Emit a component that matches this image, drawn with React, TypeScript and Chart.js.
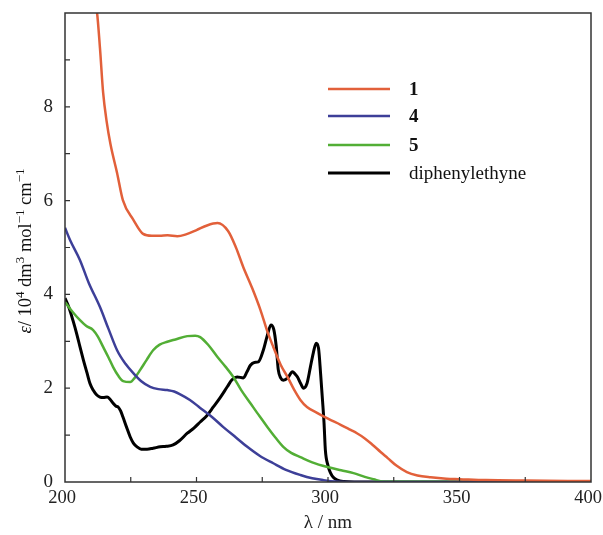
import React, { useEffect, useRef } from "react";
import { Chart, registerables } from "chart.js";

Chart.register(...registerables);

const wl1 = [210, 212.2, 213.3, 214.5, 215.8, 217.3, 219.8, 222, 226, 229.7, 233, 236, 239, 242.7, 246, 250, 254, 258, 262, 265, 267.8, 271.2, 274.3, 277, 279.2, 282, 284.6, 287, 289.5, 292, 296, 300, 304.8, 308.6, 311, 314, 317, 320, 322.7, 326, 330, 334, 339, 345, 350, 360, 375, 400];
const eps1 = [10.6, 10.0, 9.25, 8.3, 7.7, 7.2, 6.59, 6.01, 5.59, 5.29, 5.25, 5.25, 5.26, 5.24, 5.28, 5.37, 5.47, 5.52, 5.35, 5.0, 4.58, 4.13, 3.67, 3.2, 2.88, 2.5, 2.24, 1.98, 1.75, 1.6, 1.47, 1.35, 1.22, 1.11, 1.04, 0.93, 0.79, 0.64, 0.51, 0.35, 0.21, 0.14, 0.1, 0.07, 0.06, 0.04, 0.03, 0.02];

const wl4 = [200, 202, 205.7, 209, 213.3, 216.5, 219.8, 223, 226, 229, 232.4, 235.5, 238.9, 241.5, 243.8, 247.5, 251.4, 256, 260.2, 265, 269.3, 274, 279.2, 284, 289.5, 294, 298.3, 303, 310, 400];
const eps4 = [5.42, 5.15, 4.73, 4.25, 3.73, 3.27, 2.81, 2.52, 2.32, 2.15, 2.03, 1.98, 1.96, 1.93, 1.87, 1.75, 1.58, 1.38, 1.17, 0.95, 0.75, 0.56, 0.4, 0.26, 0.15, 0.08, 0.04, 0.01, 0, 0];

const wl5 = [200, 203, 205.7, 208, 210.7, 212.5, 214.5, 216.5, 218.3, 220.2, 222.1, 224.8, 226.5, 228.6, 231, 233.5, 236, 238.9, 242, 246.5, 249.5, 251.4, 254.5, 257.9, 261, 264, 267, 270.5, 274, 277, 280, 283, 286, 289.5, 294, 299.8, 305, 309.7, 314, 317.3, 321, 400];
const eps5 = [3.84, 3.62, 3.45, 3.33, 3.24, 3.1, 2.88, 2.66, 2.45, 2.27, 2.15, 2.13, 2.22, 2.39, 2.6, 2.81, 2.93, 2.99, 3.04, 3.11, 3.12, 3.09, 2.92, 2.67, 2.46, 2.24, 1.96, 1.68, 1.4, 1.17, 0.95, 0.75, 0.62, 0.53, 0.42, 0.32, 0.25, 0.19, 0.11, 0.06, 0.01, 0];

const wlD = [200, 201.5, 203, 204.5, 205.7, 207, 208.4, 209.5, 210.7, 212, 213.3, 214.6, 216, 217.2, 218.3, 219.3, 220.2, 221.1, 222, 223.4, 224.8, 226, 227.4, 229, 231.2, 233.5, 236.2, 238.5, 241.1, 243.5, 246.5, 249, 251.4, 254, 256.4, 259, 261.7, 263.5, 265.5, 267.8, 269.2, 270.5, 272, 273.5, 275.4, 276.8, 278.3, 279.4, 280.3, 281.1, 282, 283, 284.7, 286.5, 287.5, 288.4, 289.6, 290.7, 292, 293.3, 294.4, 295.5, 296.4, 297.2, 297.9, 298.5, 299, 300, 301, 302, 303.6, 306, 310, 400];
const epsD = [3.92, 3.72, 3.45, 3.15, 2.88, 2.6, 2.32, 2.1, 1.96, 1.86, 1.81, 1.8, 1.81, 1.76, 1.68, 1.62, 1.6, 1.52, 1.39, 1.17, 0.96, 0.83, 0.75, 0.7, 0.7, 0.72, 0.75, 0.76, 0.79, 0.88, 1.04, 1.15, 1.28, 1.42, 1.6, 1.8, 2.03, 2.18, 2.24, 2.22, 2.35, 2.49, 2.55, 2.56, 2.81, 3.1, 3.35, 3.25, 2.9, 2.39, 2.22, 2.17, 2.22, 2.35, 2.3, 2.24, 2.1, 2.0, 2.1, 2.45, 2.75, 2.96, 2.85, 2.3, 1.75, 1.25, 0.68, 0.35, 0.19, 0.1, 0.04, 0.01, 0, 0];

const seriesNames = ["1", "4", "5", "diphenylethyne"];
const seriesColors = ["#E2603A", "#3D3F98", "#52AE35", "#000000"];
const seriesBold = [true, true, true, false];
const xTicks = [200, 250, 300, 350, 400];
const yTicks = [0, 2, 4, 6, 8];

const FONT = "'Liberation Serif', 'Times New Roman', serif";

const toPts = (xs: number[], ys: number[]) => xs.map((x, i) => ({ x, y: ys[i] }));

const framePlugin = {
  id: "frameTicks",
  afterDraw(chart: any) {
    const { ctx, chartArea: a, scales } = chart;
    ctx.save();
    ctx.strokeStyle = "#333";
    ctx.lineWidth = 1.5;
    ctx.strokeRect(a.left, a.top, a.right - a.left, a.bottom - a.top);
    ctx.lineWidth = 1.2;
    ctx.beginPath();
    for (let v = 225; v < 400; v += 25) {
      const px = scales.x.getPixelForValue(v);
      ctx.moveTo(px, a.bottom);
      ctx.lineTo(px, a.bottom - 5);
    }
    for (let v = 1; v < 10; v += 1) {
      const py = scales.y.getPixelForValue(v);
      ctx.moveTo(a.left, py);
      ctx.lineTo(a.left + 5, py);
    }
    ctx.stroke();

    // legend
    const lx0 = 328, lx1 = 390, tx = 409;
    const rows = [89, 116, 145, 173];
    seriesNames.forEach((n, i) => {
      ctx.strokeStyle = seriesColors[i];
      ctx.lineWidth = i === 3 ? 3 : 2.5;
      ctx.beginPath();
      ctx.moveTo(lx0, rows[i]);
      ctx.lineTo(lx1, rows[i]);
      ctx.stroke();
      ctx.fillStyle = "#111";
      ctx.font = (seriesBold[i] ? "bold " : "") + "19px " + FONT;
      ctx.textBaseline = "middle";
      ctx.textAlign = "left";
      ctx.fillText(n, tx, rows[i] + 1);
    });

    // y axis title with superscripts
    const parts: [string, string, boolean][] = [
      ["ε", "italic 18.5px " + FONT, false],
      ["/ 10", "18.5px " + FONT, false],
      ["4", "13px " + FONT, true],
      [" dm", "18.5px " + FONT, false],
      ["3", "13px " + FONT, true],
      [" mol", "18.5px " + FONT, false],
      ["−1", "13px " + FONT, true],
      [" cm", "18.5px " + FONT, false],
      ["−1", "13px " + FONT, true],
    ];
    let total = 0;
    const widths = parts.map(([t, f]) => {
      ctx.font = f;
      const w = ctx.measureText(t).width;
      total += w;
      return w;
    });
    ctx.translate(25, 251);
    ctx.rotate(-Math.PI / 2);
    let x = -total / 2;
    ctx.textBaseline = "alphabetic";
    ctx.fillStyle = "#111";
    parts.forEach(([t, f, sup], i) => {
      ctx.font = f;
      ctx.fillText(t, x, sup ? -1 : 6);
      x += widths[i];
    });
    ctx.restore();
  },
};

export default function App() {
  const ref = useRef<HTMLCanvasElement>(null);
  useEffect(() => {
    if (!ref.current) return;
    const datasets = [
      [wl1, eps1],
      [wl4, eps4],
      [wl5, eps5],
      [wlD, epsD],
    ].map(([xs, ys], i) => ({
      label: seriesNames[i],
      data: toPts(xs, ys),
      borderColor: seriesColors[i],
      backgroundColor: seriesColors[i],
      borderWidth: i === 3 ? 3 : 2.5,
      pointRadius: 0,
      cubicInterpolationMode: "monotone" as const,
      fill: false,
    }));
    const chart = new Chart(ref.current, {
      type: "line",
      data: { datasets },
      options: {
        animation: false,
        responsive: true,
        maintainAspectRatio: false,
        layout: { padding: { top: 13, right: 12, left: 0, bottom: 0 } },
        plugins: { legend: { display: false }, tooltip: { enabled: false } },
        scales: {
          x: {
            type: "linear",
            min: 200,
            max: 400,
            afterBuildTicks: (s: any) => {
              s.ticks = xTicks.map((v) => ({ value: v }));
            },
            afterFit: (s: any) => {
              s.height = 53;
              s.paddingLeft = 0;
              s.paddingRight = 0;
            },
            grid: { display: false, drawTicks: false },
            border: { display: false },
            ticks: { color: "#222", font: { family: FONT, size: 18.5 }, padding: 5, maxRotation: 0, labelOffset: -3 },
            title: {
              display: true,
              text: "λ / nm",
              color: "#222",
              font: { family: FONT, size: 19 },
              padding: { top: 0, bottom: 1 },
            },
          },
          y: {
            type: "linear",
            min: 0,
            max: 10,
            afterBuildTicks: (s: any) => {
              s.ticks = yTicks.map((v) => ({ value: v }));
            },
            afterFit: (s: any) => {
              s.width = 65;
              s.paddingTop = 0;
              s.paddingBottom = 0;
            },
            grid: { display: false, drawTicks: false },
            border: { display: false },
            ticks: { color: "#222", font: { family: FONT, size: 19 }, padding: 12 },
          },
        },
      },
      plugins: [framePlugin],
    });
    return () => chart.destroy();
  }, []);
  return (
    <div style={{ position: "absolute", left: 0, top: 0, width: 603, height: 535 }}>
      <canvas ref={ref} />
    </div>
  );
}
